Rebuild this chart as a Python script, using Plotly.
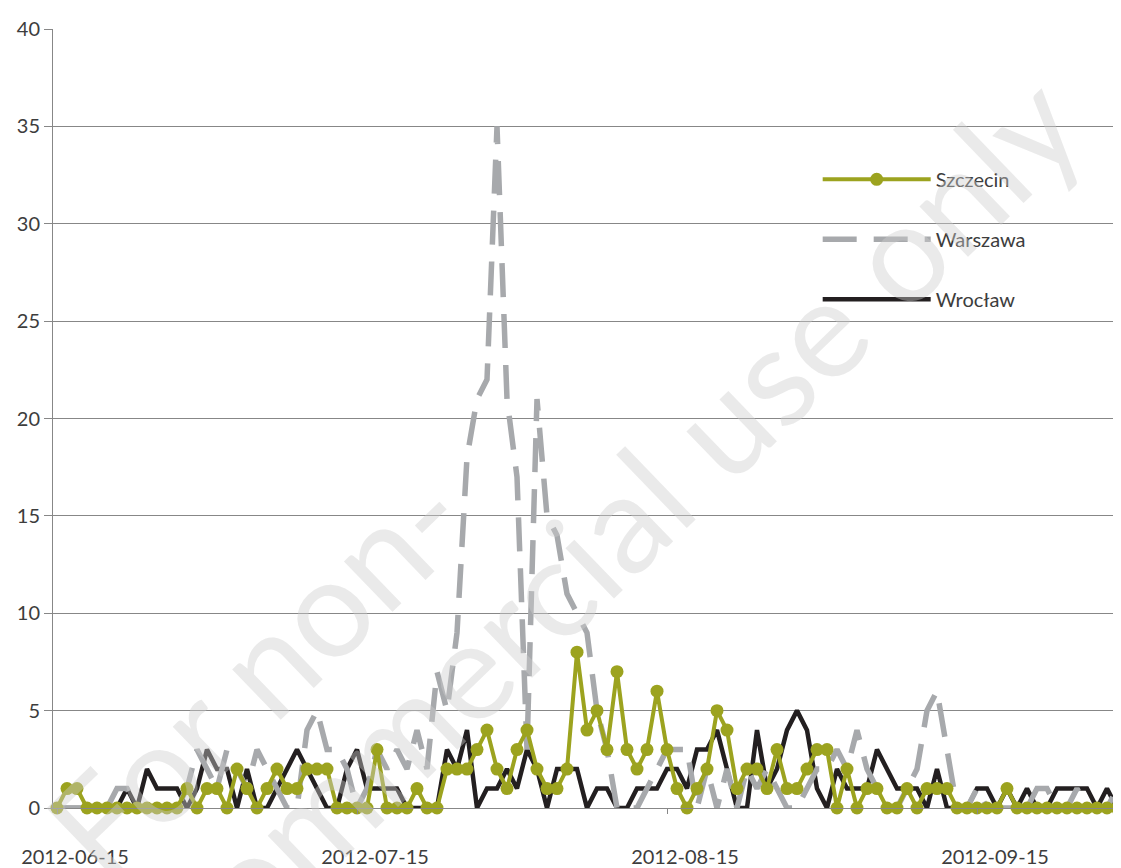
import pandas as pd
import plotly.graph_objects as go

start_date = "2012-06-15"
n_days = 107
dates = pd.date_range(start_date, periods=n_days, freq="D")

szczecin = [0, 1, 1, 0, 0, 0, 0, 0, 0, 0,
            0, 0, 0, 1, 0, 1, 1, 0, 2, 1,
            0, 1, 2, 1, 1, 2, 2, 2, 0, 0,
            0, 0, 3, 0, 0, 0, 1, 0, 0, 2,
            2, 2, 3, 4, 2, 1, 3, 4, 2, 1,
            1, 2, 8, 4, 5, 3, 7, 3, 2, 3,
            6, 3, 1, 0, 1, 2, 5, 4, 1, 2,
            2, 1, 3, 1, 1, 2, 3, 3, 0, 2,
            0, 1, 1, 0, 0, 1, 0, 1, 1, 1,
            0, 0, 0, 0, 0, 1, 0, 0, 0, 0,
            0, 0, 0, 0, 0, 0, 0]

warszawa = [0, 0, 0, 0, 0, 0, 1, 1, 0, 0,
            0, 0, 0, 1, 3, 2, 1, 3, 2, 1,
            3, 2, 1, 0, 0, 4, 5, 3, 3, 2,
            0, 1, 3, 2, 3, 2, 4, 2, 7, 5,
            9, 18, 21, 22, 35, 21, 17, 3, 21, 15,
            14, 11, 10, 9, 5, 3, 0, 0, 0, 1,
            2, 3, 3, 3, 0, 2, 0, 2, 0, 2,
            1, 2, 1, 0, 0, 1, 2, 2, 3, 2,
            4, 2, 1, 0, 0, 1, 2, 5, 6, 3,
            0, 0, 1, 0, 0, 0, 0, 0, 1, 1,
            0, 0, 1, 0, 0, 0, 1]

wroclaw = [0, 0, 0, 0, 0, 0, 0, 1, 0, 2,
           1, 1, 1, 0, 1, 3, 2, 2, 0, 2,
           0, 0, 1, 2, 3, 2, 1, 0, 0, 2,
           3, 1, 1, 1, 1, 0, 0, 0, 0, 3,
           2, 4, 0, 1, 1, 2, 1, 3, 2, 0,
           2, 2, 2, 0, 1, 1, 0, 0, 1, 1,
           1, 2, 2, 1, 3, 3, 4, 2, 0, 0,
           4, 1, 2, 4, 5, 4, 1, 0, 2, 1,
           1, 1, 3, 2, 1, 1, 1, 0, 2, 0,
           0, 0, 1, 1, 0, 1, 0, 1, 0, 0,
           1, 1, 1, 1, 0, 1, 0]

tick_dates = ["2012-06-15", "2012-07-15", "2012-08-15", "2012-09-15"]
y_ticks = [0, 5, 10, 15, 20, 25, 30, 35, 40]

GREEN = "#9ca31f"
GREY = "#a7a9ac"
BLACK = "#231f20"
AXIS = "#878787"
TEXT = "#3d3d3d"
FONT = "Lato"

fig = go.Figure()

fig.add_trace(go.Scatter(
    x=dates, y=wroclaw, name="Wrocław", mode="lines",
    line=dict(color=BLACK, width=4.5), legendrank=3, legendgroup="c",
))
fig.add_trace(go.Scatter(
    x=dates, y=warszawa, name="Warszawa", mode="lines",
    line=dict(color=GREY, width=5.5, dash="34px,17px"), legendrank=2, legendgroup="b",
))
fig.add_trace(go.Scatter(
    x=dates, y=szczecin, name="Szczecin", mode="lines+markers",
    line=dict(color=GREEN, width=4),
    marker=dict(color=GREEN, size=13, symbol="circle"),
    cliponaxis=False, legendrank=1, legendgroup="a",
))

fig.update_layout(
    width=1121, height=868,
    margin=dict(l=45, r=8, t=16, b=68),
    paper_bgcolor="white", plot_bgcolor="white",
    font=dict(family=FONT, size=20, color=TEXT),
    legend=dict(
        x=0.716, y=0.832, xanchor="left", yanchor="top",
        bgcolor="rgba(0,0,0,0)", itemwidth=108,
        tracegroupgap=31, font=dict(size=20, color=TEXT),
        traceorder="grouped",
    ),
    xaxis=dict(
        type="date",
        range=["2012-06-14 14:24", "2012-09-29 09:36"],
        tickvals=tick_dates, tickformat="%Y-%m-%d",
        showgrid=False, zeroline=False,
        showline=True, linecolor=AXIS, linewidth=1,
        ticks="outside", ticklen=5, tickcolor=AXIS,
        ticklabelshift=18, ticklabelstandoff=26,
        tickfont=dict(size=20, color=TEXT),
    ),
    yaxis=dict(
        range=[0, 40], tickvals=y_ticks,
        showgrid=True, gridcolor=AXIS, gridwidth=1,
        zeroline=False, showline=True, linecolor=AXIS, linewidth=1,
        ticks="outside", ticklen=8, tickcolor=AXIS,
        tickfont=dict(size=20, color=TEXT),
    ),
)

wm_color = "rgba(205,205,205,0.42)"
fig.add_annotation(text="For non-", xref="paper", yref="paper",
                   x=0.189, y=0.176, xanchor="center", yanchor="middle",
                   showarrow=False, textangle=-44,
                   font=dict(family=FONT, size=138, color=wm_color))
fig.add_annotation(text="commercial use only", xref="paper", yref="paper",
                   x=0.523, y=0.361, xanchor="center", yanchor="middle",
                   showarrow=False, textangle=-44,
                   font=dict(family=FONT, size=138, color=wm_color))

fig.write_html("out.html")
